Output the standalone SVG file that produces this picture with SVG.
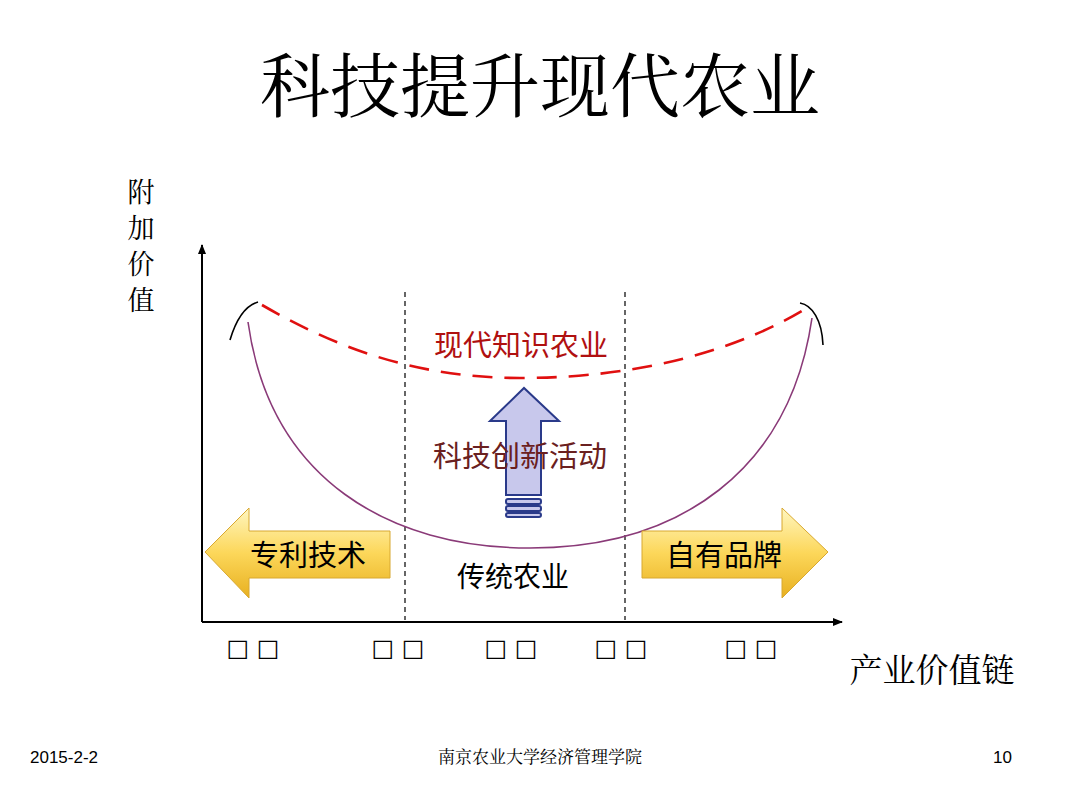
<svg xmlns="http://www.w3.org/2000/svg" width="1080" height="810" viewBox="0 0 1080 810">
<style>
.serif{font-family:"Noto Serif CJK SC","Liberation Serif","Noto Sans CJK SC",serif}
.sans{font-family:"Noto Sans CJK SC","Liberation Sans",sans-serif}
.dash{stroke:#000;stroke-width:1.2;stroke-dasharray:5,4}
</style>
<defs>
<marker id="ah" viewBox="0 0 10 10" refX="9" refY="5" markerWidth="10" markerHeight="10" markerUnits="userSpaceOnUse" orient="auto"><path d="M0,1 L10,5 L0,9 Z" fill="#000"/></marker>
<linearGradient id="yg" x1="0" y1="0" x2="0" y2="1"><stop offset="0" stop-color="#fff6c0"/><stop offset="0.5" stop-color="#fcd75a"/><stop offset="1" stop-color="#e8b020"/></linearGradient>
</defs>
<rect width="1080" height="810" fill="#fff"/>
<text class="serif" x="540" y="112" font-size="70" text-anchor="middle">科技提升现代农业</text>
<g id="ylabel" class="serif" font-size="27" text-anchor="middle"><text x="141" y="202">附</text><text x="141" y="238">加</text><text x="141" y="274">价</text><text x="141" y="310">值</text></g>
<text class="serif" x="932" y="682" font-size="33" text-anchor="middle">产业价值链</text>
<g id="connectors">
<line x1="202" y1="622" x2="202" y2="245" stroke="#000" stroke-width="2" marker-end="url(#ah)"/>
<line x1="202" y1="622" x2="842" y2="622" stroke="#000" stroke-width="2" marker-end="url(#ah)"/>
<line class="dash" x1="405" y1="292" x2="405" y2="620"/>
<line class="dash" x1="625" y1="292" x2="625" y2="620"/>
<path d="M248,322 C270,480 390,548 530,548 C680,548 790,470 812,318" fill="none" stroke="#8a3a78" stroke-width="1.6"/>
<path d="M230,340 C236,320 244,306 258,302" fill="none" stroke="#000" stroke-width="1.6"/>
<path d="M800,303 C812,305 822,320 823,345" fill="none" stroke="#000" stroke-width="1.6"/>
<path d="M262,305 C340,350 420,378 520,378 C640,378 740,350 810,306" fill="none" stroke="#e01010" stroke-width="2.6" stroke-dasharray="20,12"/>
</g>
<g id="upArrow">
<path d="M506,495 L506,421 L490,421 L524,388 L559,421 L541,421 L541,495 Z" fill="#c8c8ec" stroke="#2a3a8a" stroke-width="2"/>
<rect x="506" y="499" width="35" height="5" rx="2" fill="#c8c8ec" stroke="#2a3a8a" stroke-width="2"/>
<rect x="506" y="506" width="35" height="5" rx="2" fill="#c8c8ec" stroke="#2a3a8a" stroke-width="2"/>
<rect x="506" y="513" width="35" height="4" rx="2" fill="#c8c8ec" stroke="#2a3a8a" stroke-width="2"/>
</g>
<g id="leftArrow">
<path d="M205,552 L249,508 L249,531 L390,531 L390,578 L249,578 L249,598 Z" fill="url(#yg)" stroke="#d8a830" stroke-width="1"/>
<text class="sans" x="308" y="566" font-size="29" text-anchor="middle">专利技术</text>
</g>
<g id="rightArrow">
<path d="M642,531 L782,531 L782,508 L828,552 L782,598 L782,578 L642,578 Z" fill="url(#yg)" stroke="#d8a830" stroke-width="1"/>
<text class="sans" x="724" y="566" font-size="29" text-anchor="middle">自有品牌</text>
</g>
<text class="sans" x="521" y="356" font-size="29" fill="#b01010" text-anchor="middle">现代知识农业</text>
<text class="sans" x="520" y="467" font-size="29" fill="#6a2020" text-anchor="middle">科技创新活动</text>
<text class="sans" x="513" y="587" font-size="28" text-anchor="middle">传统农业</text>
<g font-family="DejaVu Sans,sans-serif" font-size="24" text-anchor="middle"><text x="253" y="656">□ □</text><text x="398" y="656">□ □</text><text x="511" y="656">□ □</text><text x="621" y="656">□ □</text><text x="751" y="656">□ □</text></g>
<text x="30" y="763" font-family="Liberation Sans,sans-serif" font-size="17">2015-2-2</text>
<text class="serif" x="540" y="763" font-size="17" text-anchor="middle">南京农业大学经济管理学院</text>
<text x="1012" y="763" font-family="Liberation Sans,sans-serif" font-size="17" text-anchor="end">10</text>
</svg>
